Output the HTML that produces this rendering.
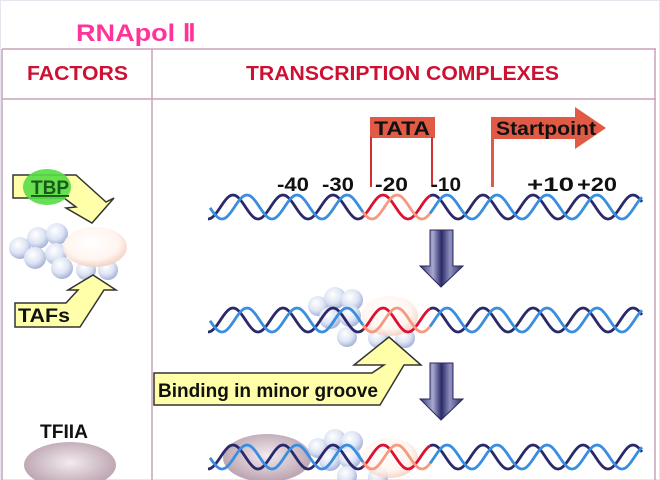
<!DOCTYPE html>
<html><head><meta charset="utf-8"><style>
html,body{margin:0;padding:0;background:#fff;width:660px;height:480px;overflow:hidden}
svg{display:block}
text{font-family:"Liberation Sans",Arial,sans-serif;font-weight:bold}
</style></head><body>
<svg id="s" width="660" height="480" viewBox="0 0 660 480" xmlns="http://www.w3.org/2000/svg">
<defs>
<radialGradient id="sph" cx="40%" cy="35%" r="65%"><stop offset="0" stop-color="#ffffff"/><stop offset="0.6" stop-color="#dde4f4"/><stop offset="1" stop-color="#a8b4d8"/></radialGradient>
<radialGradient id="pk" cx="45%" cy="40%" r="60%"><stop offset="0" stop-color="#ffffff"/><stop offset="0.7" stop-color="#fff4ee"/><stop offset="1" stop-color="#f4d0c2"/></radialGradient>
<radialGradient id="tf" cx="50%" cy="45%" r="60%"><stop offset="0" stop-color="#f4eaf0"/><stop offset="1" stop-color="#b49ca8"/></radialGradient>
<linearGradient id="da" x1="0" x2="1"><stop offset="0" stop-color="#3a3a78"/><stop offset="0.3" stop-color="#a8a8d0"/><stop offset="0.5" stop-color="#2a2a68"/><stop offset="0.7" stop-color="#9090c0"/><stop offset="1" stop-color="#2a2a60"/></linearGradient>
</defs>
<rect x="0.5" y="0.5" width="659" height="479" fill="none" stroke="#e6e6ee"/>
<text x="76" y="41" font-size="24" fill="#ff3399" textLength="120" lengthAdjust="spacingAndGlyphs">RNApol Ⅱ</text>
<g stroke="#c9a3bb" stroke-width="1.5" fill="none">
<line x1="2" y1="49" x2="656" y2="49"/>
<line x1="2" y1="99" x2="656" y2="99"/>
<line x1="2" y1="49" x2="2" y2="480"/>
<line x1="152" y1="49" x2="152" y2="480"/>
<line x1="655" y1="49" x2="655" y2="480"/>
</g>
<text x="27" y="80" font-size="20" fill="#cc1133" textLength="101" lengthAdjust="spacingAndGlyphs">FACTORS</text>
<text x="246" y="80" font-size="20" fill="#cc1133" textLength="313" lengthAdjust="spacingAndGlyphs">TRANSCRIPTION COMPLEXES</text>
<!-- TATA -->
<rect x="370" y="117" width="65" height="21" fill="#e05a45"/>
<text x="374" y="135" font-size="19" fill="#111" textLength="56" lengthAdjust="spacingAndGlyphs">TATA</text>
<line x1="371" y1="137" x2="371" y2="187" stroke="#d03030" stroke-width="2"/>
<line x1="432" y1="137" x2="432" y2="187" stroke="#d03030" stroke-width="2"/>
<!-- Startpoint -->
<path d="M491 117 H575 V107 L606 128 L575 149 V139 H494 V187 H491 Z" fill="#e05a45"/>
<text x="496" y="135" font-size="19" fill="#111" textLength="100" lengthAdjust="spacingAndGlyphs">Startpoint</text>
<g font-size="19" fill="#111">
<text x="277" y="191" textLength="32" lengthAdjust="spacingAndGlyphs">-40</text>
<text x="322" y="191" textLength="32" lengthAdjust="spacingAndGlyphs">-30</text>
<text x="375" y="191" textLength="33" lengthAdjust="spacingAndGlyphs">-20</text>
<text x="431" y="191" textLength="30" lengthAdjust="spacingAndGlyphs">-10</text>
<text x="527" y="191" textLength="47" lengthAdjust="spacingAndGlyphs">+10</text>
<text x="577" y="191" textLength="40" lengthAdjust="spacingAndGlyphs">+20</text>
</g>
<!-- down arrows -->
<path d="M430 230 H453 V266 H463 L441 287 L420 266 H430 Z" fill="url(#da)" stroke="#2a2a60" stroke-width="1"/>
<path d="M430 363 H453 V399 H463 L441 420 L420 399 H430 Z" fill="url(#da)" stroke="#2a2a60" stroke-width="1"/>
<!-- TAF cluster factors -->
<g>
<circle cx="20" cy="248" r="11" fill="url(#sph)"/><circle cx="38" cy="238" r="11" fill="url(#sph)"/><circle cx="57" cy="234" r="11" fill="url(#sph)"/><circle cx="35" cy="258" r="11" fill="url(#sph)"/><circle cx="56" cy="254" r="11" fill="url(#sph)"/><circle cx="62" cy="268" r="11" fill="url(#sph)"/><circle cx="86" cy="270" r="10" fill="url(#sph)"/><circle cx="108" cy="270" r="10" fill="url(#sph)"/>
<ellipse cx="95" cy="247" rx="32" ry="20" fill="url(#pk)" opacity="0.92"/>
</g>
<!-- TBP arrow -->
<path d="M13 175 H76 L106 202 L114 198 L92 223 L66 208 L76 207 L64 198 H13 Z" fill="#ffffaa" stroke="#333" stroke-width="1.5"/>
<ellipse cx="47" cy="187" rx="24" ry="18" fill="#55dd44" opacity="0.9"/>
<text x="31" y="194" font-size="19" fill="#1a5a1a" text-decoration="underline" textLength="38" lengthAdjust="spacingAndGlyphs">TBP</text>
<!-- TAFs arrow -->
<path d="M15 303 H66 L78 290 L68 290 L93 275 L116 290 L104 290 L80 327 H15 Z" fill="#ffffaa" stroke="#333" stroke-width="1.5"/>
<text x="18" y="322" font-size="19" fill="#111" textLength="52" lengthAdjust="spacingAndGlyphs">TAFs</text>
<!-- row2 proteins -->
<g>
<circle cx="318" cy="306" r="10" fill="url(#sph)"/><circle cx="335" cy="298" r="11" fill="url(#sph)"/><circle cx="352" cy="300" r="11" fill="url(#sph)"/><circle cx="330" cy="318" r="11" fill="url(#sph)"/><circle cx="350" cy="316" r="11" fill="url(#sph)"/><circle cx="347" cy="337" r="10" fill="url(#sph)"/><circle cx="378" cy="338" r="10" fill="url(#sph)"/><circle cx="405" cy="338" r="10" fill="url(#sph)"/>
<ellipse cx="390" cy="316" rx="28" ry="20" fill="url(#pk)" opacity="0.85"/>
</g>
<!-- row3 proteins -->
<ellipse cx="267" cy="458" rx="44" ry="24" fill="url(#tf)"/>
<g>
<circle cx="318" cy="448" r="10" fill="url(#sph)"/><circle cx="335" cy="440" r="11" fill="url(#sph)"/><circle cx="352" cy="442" r="11" fill="url(#sph)"/><circle cx="330" cy="460" r="11" fill="url(#sph)"/><circle cx="350" cy="458" r="11" fill="url(#sph)"/><circle cx="347" cy="476" r="10" fill="url(#sph)"/><circle cx="378" cy="477" r="10" fill="url(#sph)"/>
<ellipse cx="390" cy="458" rx="28" ry="20" fill="url(#pk)" opacity="0.85"/>
</g>
<!-- Binding arrow -->
<path d="M154 373 H372 L384 365 L354 365 L389 337 L421 365 L404 365 L380 405 H154 Z" fill="#ffffaa" stroke="#333" stroke-width="1.5"/>
<text x="158" y="397" font-size="19" fill="#111" textLength="220" lengthAdjust="spacingAndGlyphs">Binding in minor groove</text>
<!-- TFIIA -->
<text x="40" y="438" font-size="19" fill="#111" textLength="48" lengthAdjust="spacingAndGlyphs">TFIIA</text>
<ellipse cx="70" cy="465" rx="46" ry="23" fill="url(#tf)"/>
<g id="dna"></g>
</svg>
<script>
var g=document.getElementById('dna'),NS='http://www.w3.org/2000/svg';
function strand(cy,x0,x1,ph,col,w){var d='';for(var x=x0;x<=x1;x+=1){var t=2*Math.PI*(x-208+ph)/50;var y=cy+12*Math.cos(t);d+=(d?'L':'M')+x+' '+y.toFixed(1);}
var p=document.createElementNS(NS,'path');p.setAttribute('d',d);p.setAttribute('fill','none');p.setAttribute('stroke',col);p.setAttribute('stroke-width',w);g.appendChild(p);}
[207,320,457].forEach(function(cy){
strand(cy,208,363,0,'#2a2a6a',2.8);strand(cy,363,430,0,'#dd1133',2.8);strand(cy,430,642,0,'#2a2a6a',2.8);
strand(cy,210,363,-14,'#3a8ee0',2.8);strand(cy,363,430,-14,'#f59a80',2.8);strand(cy,430,642,-14,'#3a8ee0',2.8);
});
</script>
</body></html>
